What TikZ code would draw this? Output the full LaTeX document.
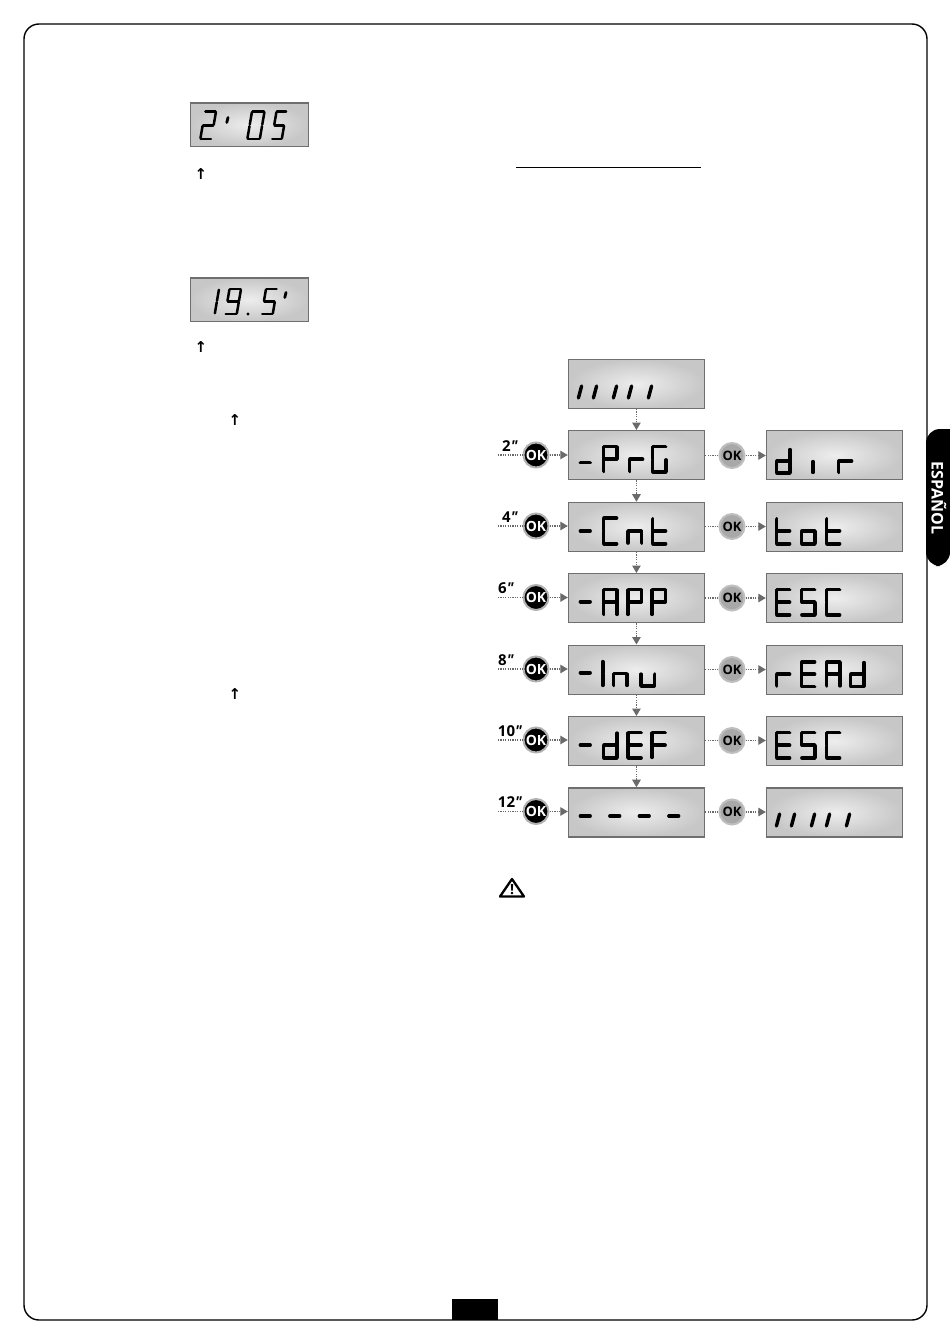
\documentclass[tikz,border=0pt]{standalone}
\usepackage{fontspec}
\setmainfont{Open Sans}
\newfontfamily\symfont{DejaVu Sans}
\usetikzlibrary{arrows.meta,calc}
\definecolor{linkgrey}{HTML}{6A6A6A}
\definecolor{lcdedge}{HTML}{6F6F6F}
\tikzset{
  lcd/.style={draw=lcdedge,line width=1.3pt,inner sep=0pt,anchor=north west,inner color=gray!14,outer color=gray!44},
  bigseg/.style={line width=3.8pt,line cap=round,black},
  thinseg/.style={line width=2.5pt,line cap=round,black},
  okon/.style={circle,draw=gray!60,line width=2pt,fill=black,text=white,minimum size=25pt,inner sep=0pt,font=\bfseries\fontsize{14}{14}\selectfont},
  okoff/.style={circle,draw=gray!50,line width=2pt,fill=gray!68,text=black,minimum size=25pt,inner sep=0pt,font=\bfseries\fontsize{13}{13}\selectfont},
  dotlink/.style={linkgrey,line width=1.2pt,dash pattern=on 1.2pt off 1.2pt},
  arrowlink/.style={dotlink,-{Triangle[width=8.5pt,length=7.5pt]}},
  timelabel/.style={font=\bfseries\fontsize{15}{15}\selectfont,inner sep=0pt},
  uparrow/.style={font=\symfont\bfseries\fontsize{15}{15}\selectfont,inner sep=0pt},
}
% seven segments, unit square, y pointing down
\newcommand\sgA{\draw[sgstyle] (.04,0)--(.96,0);}
\newcommand\sgB{\draw[sgstyle] (1,.03)--(1,.47);}
\newcommand\sgC{\draw[sgstyle] (1,.53)--(1,.97);}
\newcommand\sgD{\draw[sgstyle] (.04,1)--(.96,1);}
\newcommand\sgE{\draw[sgstyle] (0,.53)--(0,.97);}
\newcommand\sgF{\draw[sgstyle] (0,.03)--(0,.47);}
\newcommand\sgG{\draw[sgstyle] (.04,.5)--(.96,.5);}
\newcommand\chP{\sgA\sgB\sgF\sgG\sgE}
\newcommand\chr{\sgG\sgE}
\newcommand\chG{\sgA\sgF\sgE\sgD\sgC}
\newcommand\chC{\sgA\sgF\sgE\sgD}
\newcommand\chn{\sgG\sgE\sgC}
\newcommand\cht{\sgF\sgE\sgD\sgG}
\newcommand\cho{\sgG\sgE\sgC\sgD}
\newcommand\chA{\sgA\sgB\sgC\sgE\sgF\sgG}
\newcommand\chu{\sgE\sgC\sgD}
\newcommand\chd{\sgB\sgC\sgD\sgE\sgG}
\newcommand\chE{\sgA\sgF\sgG\sgE\sgD}
\newcommand\chF{\sgA\sgF\sgG\sgE}
\newcommand\chS{\sgA\sgF\sgG\sgC\sgD}
\newcommand\chTwo{\sgA\sgB\sgG\sgE\sgD}
\newcommand\chZero{\sgA\sgB\sgC\sgD\sgE\sgF}
\newcommand\chNine{\sgA\sgB\sgC\sgD\sgF\sgG}
% \glyph{x}{y}{w}{h}{slant}{style}{segments}
\newcommand\glyph[7]{\begin{scope}[shift={(#1,#2)},xslant=#5,xscale=#3,yscale=#4,sgstyle/.style={#6}]#7\end{scope}}
\newcommand\bigch[4]{\glyph{#1}{#2}{13.5}{#3}{0}{bigseg}{#4}}
\newcommand\dashseg[2]{\draw[bigseg] (#1,#2)--++(9.5,0);}
\newcommand\slstroke[2]{\draw[bigseg,line width=3.4pt] ($(#1,#2)+(1.6,0)$)--++(-3.2,12);}
\begin{document}
\begin{tikzpicture}[x=1pt,y=-1pt]
\useasboundingbox (0,0) rectangle (950,1344);
\fill[white] (0,0) rectangle (950,1344);
% page frame
\draw[black,line width=1.4pt,rounded corners=15pt] (24,24) rectangle (927,1320);
% side tab
\fill[black,rounded corners=14pt] (950,429) -- (926,429) -- (926,566) -- (950,566) [sharp corners] -- cycle;
\node[rotate=-90,text=white,inner sep=0pt,font=\bfseries\fontsize{16}{16}\selectfont] (tab) at (939,498) {ESPAÑOL};
% page number block
\fill[black] (452,1298.5) rectangle (497.5,1320);
% left displays
\node[lcd,minimum width=118pt,minimum height=43.5pt] (T1) at (189.5,102.2) {};
\glyph{205}{111.5}{11}{27.5}{0.17}{thinseg}{\chTwo}
\draw[thinseg,line width=2.8pt] (228,117.5)--(226.8,122.5);
\glyph{252}{111.5}{12.5}{27.5}{0.17}{thinseg}{\chZero}
\glyph{276.5}{111.5}{10}{27.5}{0.17}{thinseg}{\chS}
\node[uparrow] (u1) at (201,174) {↑};
\node[lcd,minimum width=118pt,minimum height=43.5pt] (T2) at (189.5,277.2) {};
\glyph{218}{289}{1}{25}{0.17}{thinseg}{\sgB\sgC}
\glyph{229.5}{289}{11.5}{25}{0.17}{thinseg}{\chNine}
\fill[black] (248,314) circle (1.6pt);
\glyph{266}{289}{11}{25}{0.17}{thinseg}{\chS}
\draw[thinseg,line width=2.8pt] (286,292.5)--(284.8,297.5);
\node[uparrow] (u2) at (201,347) {↑};
\node[uparrow] (u3) at (235,420) {↑};
\node[uparrow] (u4) at (235,694) {↑};
% heading rule
\draw[black,line width=0.9pt] (516,167.5)--(700.5,167.5);
% flow displays
\node[lcd,minimum width=136pt,minimum height=49pt] (L0) at (567.8,358.7) {};
\foreach \r/\y in {1/430,2/501.7,3/573,4/644.5,5/716,6/787.2}{
  \node[lcd,minimum width=136pt,minimum height=49pt] (L\r) at (567.8,\y) {};
  \node[lcd,minimum width=136pt,minimum height=49pt] (R\r) at (765.8,\y) {};
}
% buttons, labels and links
\foreach \r/\y/\lx/\lab in {1/455/510/2,2/526/510/4,3/597.5/506/6,4/669/506/8,5/740/510/10,6/811.5/510/12}{
  \node[okon] (B\r) at (536,\y) {OK};
  \node[okoff] (C\r) at (732,\y+0.5) {OK};
  \node[timelabel] (t\r) at (\lx,\y-9) {\lab\textit{″}};
  \coordinate (s\r) at (498,\y);
  \draw[dotlink] (s\r) -- (B\r);
  \draw[arrowlink] (B\r) -- (L\r.west |- B\r);
  \draw[dotlink] (L\r.east |- C\r) -- (C\r);
  \draw[arrowlink] (C\r) -- (R\r.west |- C\r);
}
\foreach \a/\b in {0/1,1/2,2/3,3/4,4/5,5/6}{
  \draw[arrowlink] (L\a.south) -- (L\b.north);
}
% top display: 11111
\foreach \x in {580,595,615,630,650}{\slstroke{\x}{386}}
\foreach \x in {778,793,813,828,848}{\slstroke{\x}{814}}
% -PrG / dir
\dashseg{580.5}{462.5}
\bigch{603.5}{446.5}{25.5}{\chP}\bigch{629.5}{446.5}{25.5}{\chr}\bigch{652.5}{446.5}{25.5}{\chG}
\bigch{776.5}{449}{24}{\chd}\bigch{812.8}{449}{24}{\sgE}\bigch{838.5}{449}{24}{\chr}
% -Cnt / tot
\dashseg{580.5}{531}
\bigch{603.5}{518.2}{25.5}{\chC}\bigch{628}{518.2}{25.5}{\chn}\bigch{652.5}{518.2}{25.5}{\cht}
\bigch{776.5}{518.2}{25.5}{\cht}\bigch{801.5}{518.2}{25.5}{\cho}\bigch{826.5}{518.2}{25.5}{\cht}
% -APP / ESC
\dashseg{580.5}{601.7}
\bigch{603.5}{589.5}{25.5}{\chA}\bigch{628}{589.5}{25.5}{\chP}\bigch{652}{589.5}{25.5}{\chP}
\bigch{776.5}{589.5}{25.5}{\chE}\bigch{801.5}{589.5}{25.5}{\chS}\bigch{826.5}{589.5}{25.5}{\chC}
% -Inu / rEAd
\dashseg{580.5}{672.7}
\bigch{602.7}{661}{25}{\sgF\sgE}\bigch{613.5}{661}{25}{\chn}\bigch{641}{661}{25}{\chu}
\bigch{776.5}{662}{24.5}{\chr}\bigch{801.5}{662}{24.5}{\chE}\bigch{826.5}{662}{24.5}{\chA}\bigch{850.5}{662}{24.5}{\chd}
% -dEF / ESC
\dashseg{580.5}{745}
\bigch{603.5}{732.5}{25.5}{\chd}\bigch{628}{732.5}{25.5}{\chE}\bigch{652}{732.5}{25.5}{\chF}
\bigch{776.5}{732.5}{25.5}{\chE}\bigch{801.5}{732.5}{25.5}{\chS}\bigch{826.5}{732.5}{25.5}{\chC}
% ----
\foreach \x in {580.5,610,639.5,669}{\dashseg{\x}{816}}
% warning sign
\draw[black,line width=2.3pt,line join=round] (512,879)--(524,896.5)--(500,896.5)--cycle;
\node[inner sep=0pt,font=\bfseries\fontsize{14}{14}\selectfont] (warn) at (512,889.5) {!};
\end{tikzpicture}
\end{document}
